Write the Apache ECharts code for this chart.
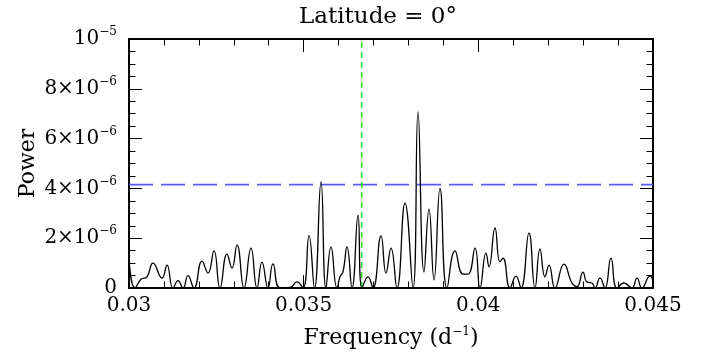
<!DOCTYPE html>
<html>
<head>
<meta charset="utf-8">
<script src="https://cdn.jsdelivr.net/npm/echarts@6/dist/echarts.min.js"></script>
<style>html,body{margin:0;padding:0;background:#fff;}#c{width:707px;height:356px;}</style>
</head>
<body>
<div id="c"></div>
<script>
// Frequency (d^-1)
const freq = [0.030000,0.030172,0.030344,0.030515,0.030687,0.030945,0.031088,0.031260,0.031403,0.031546,
0.031689,0.031861,0.032090,0.032261,0.032433,0.032605,0.032805,0.032948,0.033092,0.033292,
0.033492,0.033664,0.033807,0.033979,0.034122,0.034323,0.034609,0.034809,0.034981,0.035153,
0.035310,0.035496,0.035639,0.035782,0.035954,0.036040,0.036126,0.036240,0.036384,0.036555,
0.036670,0.036842,0.036985,0.037214,0.037357,0.037500,0.037672,0.037901,0.038130,0.038273,
0.038445,0.038588,0.038731,0.038903,0.039103,0.039332,0.039561,0.039704,0.039905,0.040048,
0.040219,0.040305,0.040477,0.040620,0.040706,0.040906,0.041078,0.041221,0.041450,0.041622,
0.041765,0.041908,0.042023,0.042194,0.042452,0.042681,0.042824,0.042995,0.043110,0.043253,
0.043339,0.043482,0.043625,0.043797,0.043969,0.044169,0.044398,0.044541,0.044684,0.044914,0.045000];
// Power in units of 1e-6
const power = [1.2,0,0.35,0.45,1.0,0.4,0.92,0,0.3,0,
0.5,0,1.08,0.6,1.49,0,1.36,0.8,1.73,0,
1.6,0,1.04,0,0.97,0,0.02,0.25,0,2.1,
0,4.26,0,1.65,0,0.45,0.65,1.65,0,2.93,
0,0.45,0,2.09,0.6,1.6,0,3.41,0,7.07,
0.64,3.17,0.32,4.0,0,1.49,0.56,0.56,1.6,0,
1.4,0.85,2.41,1.05,1.2,0,0.48,0,2.2,0,
1.57,0.45,0.92,0,0.96,0.2,0.05,0.64,0.24,0.2,
0,0.4,0,1.2,0,0.2,0,0.4,0,0.48,0.3];
const threshold = 4.15;        // 1e-6 units
const markFreq = 0.03666;
const xRange = [0.03, 0.045];
const yRange = [0, 10];
const xTicks = [0.03, 0.035, 0.04, 0.045];
const xTickLabels = ['0.03', '0.035', '0.04', '0.045'];
const yTicks = [0, 2, 4, 6, 8, 10];
const yTickBase = ['0', '2×10', '4×10', '6×10', '8×10', '10'];
const yTickExp = ['', '−6', '−6', '−6', '−6', '−5'];

const FONT = 'DejaVu Serif';
const chart = echarts.init(document.getElementById('c'), null, {renderer: 'canvas'});
const data = freq.map((f, i) => [f, power[i]]);
const axisLineStyle = {color: '#000', width: 2};
const xCommon = {
  type: 'value', min: xRange[0], max: xRange[1], interval: 0.005,
  axisLine: {show: true, onZero: false, lineStyle: axisLineStyle},
  axisTick: {show: true, inside: true, length: 13, lineStyle: {color: '#000', width: 1}},
  minorTick: {show: true, splitNumber: 5, length: 6.5, lineStyle: {color: '#000', width: 1}},
  splitLine: {show: false}
};
const yCommon = {
  type: 'value', min: yRange[0], max: yRange[1], interval: 2,
  axisLine: {show: true, onZero: false, lineStyle: axisLineStyle},
  axisTick: {show: true, inside: true, length: 13, lineStyle: {color: '#000', width: 1}},
  minorTick: {show: true, splitNumber: 4, length: 6.5, lineStyle: {color: '#000', width: 1}},
  splitLine: {show: false}
};
chart.setOption({
  animation: false,
  backgroundColor: '#fff',
  textStyle: {fontFamily: FONT, color: '#000'},
  title: {
    text: 'Latitude = 0°', left: 373, top: 1, textAlign: 'center',
    textStyle: {fontFamily: FONT, fontSize: 23, fontWeight: 'normal', color: '#000'}
  },
  grid: {left: 129, right: 54, top: 39, bottom: 68},
  xAxis: [
    Object.assign({}, xCommon, {
      position: 'bottom',
      name: 'Frequency (d{s|−1})', nameLocation: 'middle', nameGap: 38, nameMoveOverlap: false,
      nameTextStyle: {fontFamily: FONT, fontSize: 22, color: '#000',
        rich: {s: {fontFamily: FONT, fontSize: 12, color: '#000', padding: [0, 0, 12, 0]}}},
      axisLabel: {show: true, margin: 8, fontFamily: FONT, fontSize: 20, color: '#000',
        formatter: v => { const i = xTicks.findIndex(t => Math.abs(t - v) < 1e-9); return i >= 0 ? xTickLabels[i] : ''; }}
    }),
    Object.assign({}, xCommon, {position: 'top', axisLabel: {show: false}})
  ],
  yAxis: [
    Object.assign({}, yCommon, {
      position: 'left',
      name: 'Power', nameLocation: 'middle', nameGap: 90, nameRotate: 90, nameMoveOverlap: false,
      nameTextStyle: {fontFamily: FONT, fontSize: 22, color: '#000'},
      axisLabel: {show: true, margin: 12, fontFamily: FONT, fontSize: 20, color: '#000',
        formatter: v => { const i = yTicks.findIndex(t => Math.abs(t - v) < 1e-9); if (i < 0) return ''; return yTickExp[i] ? '{b|' + yTickBase[i] + '}{s|' + yTickExp[i] + '}' : '{b|' + yTickBase[i] + '}'; },
        rich: {
          b: {fontFamily: FONT, fontSize: 20, color: '#000'},
          s: {fontFamily: FONT, fontSize: 12, color: '#000', padding: [0, 0, 14, 0]}
        }}
    }),
    Object.assign({}, yCommon, {position: 'right', axisLabel: {show: false}})
  ],
  series: [
    {
      name: 'threshold', type: 'line', xAxisIndex: 0, yAxisIndex: 0,
      data: [[xRange[0], threshold], [xRange[1], threshold]],
      symbol: 'none', silent: true, z: 1,
      lineStyle: {color: '#5b5bf2', width: 1.6, type: [24, 8]}
    },
    {
      name: 'marker', type: 'line', xAxisIndex: 0, yAxisIndex: 0,
      data: [[markFreq, yRange[0]], [markFreq, yRange[1]]],
      symbol: 'none', silent: true, z: 1,
      lineStyle: {color: '#2fe02f', width: 1.6, type: [6, 4]}
    },
    {
      name: 'power', type: 'line', data: data, xAxisIndex: 0, yAxisIndex: 0,
      smooth: 0.5, symbol: 'none', clip: true, z: 3,
      lineStyle: {color: '#000', width: 1.3}
    }
  ]
});
</script>
</body>
</html>
